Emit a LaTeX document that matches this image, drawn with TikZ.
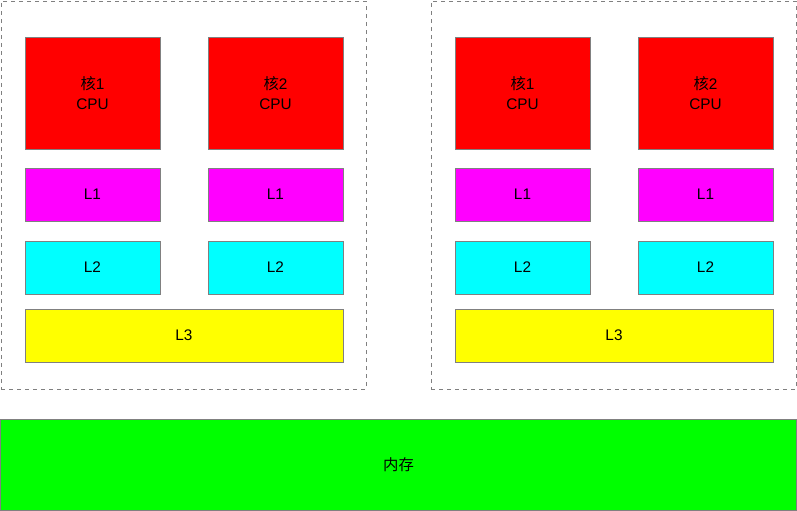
\documentclass[tikz,border=0pt]{standalone}
\usepackage{fontspec}
\setmainfont{Liberation Sans}
\newfontfamily\cjk{Noto Sans CJK SC}
\definecolor{cpured}{RGB}{255,0,0}
\definecolor{lonemag}{RGB}{255,0,255}
\definecolor{ltwocyan}{RGB}{0,255,255}
\definecolor{lthreeyel}{RGB}{255,255,0}
\definecolor{memgreen}{RGB}{0,255,0}
\tikzset{
  cell/.style={draw=gray, line width=0.75pt, inner sep=0pt, align=center,
    font=\fontsize{11.5}{15}\selectfont},
  cpubox/.style={cell, fill=cpured, minimum width=101.25pt, minimum height=84pt},
  lonebox/.style={cell, fill=lonemag, minimum width=101.25pt, minimum height=39.75pt},
  ltwobox/.style={cell, fill=ltwocyan, minimum width=101.25pt, minimum height=39.75pt},
  lthreebox/.style={cell, fill=lthreeyel, minimum width=238.5pt, minimum height=39.75pt},
  group/.style={draw=gray, dashed, line width=0.75pt, inner sep=0pt,
    minimum width=273.75pt, minimum height=291pt},
}
\begin{document}
\begin{tikzpicture}[x=0.75pt,y=-0.75pt]
\useasboundingbox (0,0) rectangle (797,511);

% --- socket A ---
\begin{scope}
\node[group] (grpA) at (183.5,195) {};
\node[cpubox] (cpuA1) at (92.5,93) {{\cjk 核}1\\CPU};
\node[cpubox] (cpuA2) at (275.5,93) {{\cjk 核}2\\CPU};
\node[lonebox] (loneA1) at (92.5,194.5) {L1};
\node[lonebox] (loneA2) at (275.5,194.5) {L1};
\node[ltwobox] (ltwoA1) at (92.5,267.5) {L2};
\node[ltwobox] (ltwoA2) at (275.5,267.5) {L2};
\node[lthreebox] (lthreeA) at (184,335.5) {L3};
\end{scope}

% --- socket B ---
\begin{scope}[xshift=322.5pt]
\node[group] (grpB) at (183.5,195) {};
\node[cpubox] (cpuB1) at (92.5,93) {{\cjk 核}1\\CPU};
\node[cpubox] (cpuB2) at (275.5,93) {{\cjk 核}2\\CPU};
\node[lonebox] (loneB1) at (92.5,194.5) {L1};
\node[lonebox] (loneB2) at (275.5,194.5) {L1};
\node[ltwobox] (ltwoB1) at (92.5,267.5) {L2};
\node[ltwobox] (ltwoB2) at (275.5,267.5) {L2};
\node[lthreebox] (lthreeB) at (184,335.5) {L3};
\end{scope}

% memory
\node[cell, fill=memgreen, minimum width=597pt, minimum height=68.25pt] (mem) at (398.5,465) {\cjk 内存};

\end{tikzpicture}
\end{document}
